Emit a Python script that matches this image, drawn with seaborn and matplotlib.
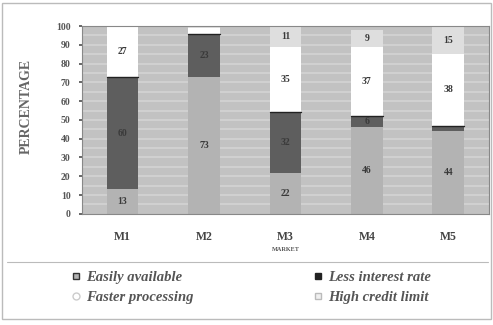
import numpy as np
import pandas as pd
import matplotlib
matplotlib.use("Agg")
import matplotlib.pyplot as plt
import seaborn as sns
from matplotlib.patches import Rectangle
from matplotlib.lines import Line2D

markets = ["M1", "M2", "M3", "M4", "M5"]
easily_available = [13, 73, 22, 46, 44]
less_interest_rate = [60, 23, 32, 6, 3]
faster_processing = [27, 3, 35, 37, 38]
high_credit_limit = [0, 1, 11, 9, 15]
series_names = ["Easily available", "Less interest rate", "Faster processing", "High credit limit"]
y_ticks = list(range(0, 101, 10))

sns.set_theme(style="white")
plt.rcParams['font.family'] = ['Liberation Serif', 'DejaVu Serif']

colors = ["#b3b3b3", "#5e5e5e", "#ffffff", "#dedede"]
series = [easily_available, less_interest_rate, faster_processing, high_credit_limit]
cum = np.cumsum(np.array(series, dtype=float), axis=0)

fig = plt.figure(figsize=(4.93, 3.25), dpi=100)
ax = fig.add_axes([0.166, 0.342, 0.826, 0.578])
ax.set_facecolor("#c2c2c2")
for y in np.arange(5, 100, 5):
    ax.axhline(y, color="#d4d4d4", lw=1.2, zorder=0)

# draw stacked bars from top layer down
for i in range(3, -1, -1):
    df = pd.DataFrame({"market": markets, "value": cum[i]})
    sns.barplot(data=df, x="market", y="value", color=colors[i], width=0.39,
                saturation=1, ax=ax, zorder=2, edgecolor="none")

# thin dark border on top of the "less interest rate" segments
for bar in ax.containers[2]:
    x0 = bar.get_x()
    w = bar.get_width()
    h = bar.get_height()
    ax.plot([x0, x0 + w], [h, h], color="#222222", lw=1, zorder=2.5)

# segment labels
for j, m in enumerate(markets):
    for i in range(4):
        v = series[i][j]
        if v >= 5:
            base = cum[i][j] - v
            ax.text(j, base + v / 2, str(v), ha="center", va="center",
                    fontsize=7, fontweight="bold", color="#3a3a3a", zorder=3)

ax.set_xlim(-0.5, 4.5)
ax.set_ylim(0, 100)
ax.set_yticks(y_ticks)
ax.set_yticklabels([str(t) for t in y_ticks], fontsize=7, fontweight="bold", color="#555555")
ax.tick_params(axis="y", length=2, pad=6, color="#555555", left=True)
ax.tick_params(axis="x", length=0, pad=12, labelsize=8.5, colors="#444444")
for t in ax.get_xticklabels():
    t.set_fontweight("bold")
ax.set_xlabel("MARKET", fontsize=4.5, fontweight="bold", color="#555555", labelpad=3)
ax.set_ylabel("PERCENTAGE", fontsize=10, fontweight="bold", color="#666666")
ax.yaxis.set_label_coords(-0.12, 0.57)
for s in ax.spines.values():
    s.set_color("#888888")
    s.set_linewidth(0.8)

# legend
handles = [
    Line2D([], [], marker="s", linestyle="none", markersize=5, markerfacecolor=colors[0], markeredgecolor="#333333"),
    Line2D([], [], marker="s", linestyle="none", markersize=5, markerfacecolor="#222222", markeredgecolor="#222222"),
    Line2D([], [], marker="o", linestyle="none", markersize=5, markerfacecolor="#ffffff", markeredgecolor="#cccccc"),
    Line2D([], [], marker="s", linestyle="none", markersize=5, markerfacecolor="#f0f0f0", markeredgecolor="#bbbbbb"),
]
legprops = {"style": "italic", "weight": "bold", "size": 10.5}
leg1 = fig.legend([handles[0], handles[2]], [series_names[0], series_names[2]], loc="center left",
                  bbox_to_anchor=(0.112, 0.115), frameon=False, handletextpad=0.2,
                  labelspacing=0.45, prop=legprops, handlelength=1)
leg2 = fig.legend([handles[1], handles[3]], [series_names[1], series_names[3]], loc="center left",
                  bbox_to_anchor=(0.603, 0.115), frameon=False, handletextpad=0.2,
                  labelspacing=0.45, prop=legprops, handlelength=1)
for leg in (leg1, leg2):
    for t in leg.get_texts():
        t.set_color("#555555")

fig.add_artist(Line2D([0.015, 0.99], [0.195, 0.195], transform=fig.transFigure, color="#bbbbbb", lw=0.8))
fig.add_artist(Rectangle((0.004, 0.02), 0.992, 0.97, transform=fig.transFigure, fill=False,
                         edgecolor="#bbbbbb", lw=1))

fig.savefig("out.png", dpi=100)
